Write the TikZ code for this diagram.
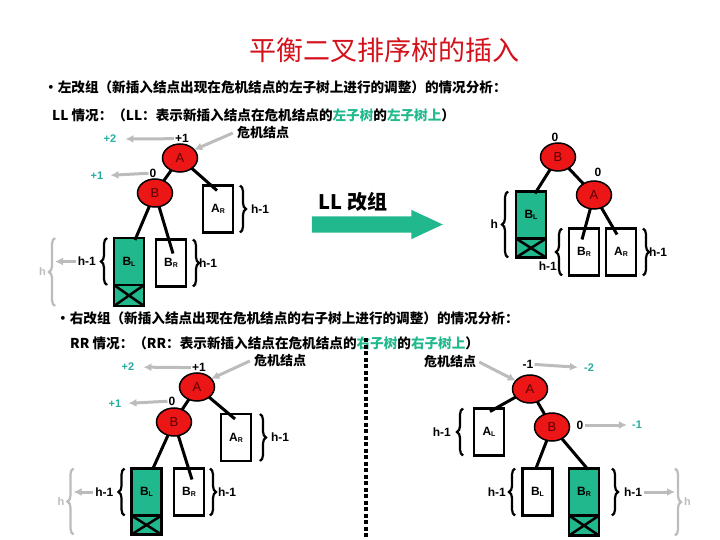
\documentclass[tikz,border=0pt]{standalone}
\usepackage{fontspec}
\setmainfont{Liberation Sans}
\newfontfamily\cjk{Noto Sans CJK SC}
\usetikzlibrary{shapes.geometric,shapes.arrows}
\usetikzlibrary{arrows.meta}
\usetikzlibrary{positioning}
\usetikzlibrary{decorations.pathreplacing}
\definecolor{nodered}{RGB}{236,22,22}
\definecolor{titlered}{RGB}{212,18,28}
\definecolor{newgreen}{RGB}{32,184,140}
\definecolor{bfgreen}{RGB}{38,172,160}
\definecolor{hintgray}{RGB}{188,188,188}
\newcommand{\subbox}[2]{#1\raisebox{-1.2pt}{\fontsize{7}{7}\selectfont #2}}
\tikzset{
% standard arrow tip
>={Latex[length=8pt,width=8pt]},
avl/.style={ellipse, draw=black, line width=1.5pt, fill=nodered,
  minimum width=35pt, minimum height=28pt, inner sep=0, outer sep=0,
  text=red!35!black, font=\fontsize{13}{13}\selectfont},
subtree/.style={rectangle, draw=black, line width=2.5pt, fill=white,
  minimum width=30pt, minimum height=47pt, inner sep=0, outer sep=0,
  font=\bfseries\fontsize{12}{12}\selectfont},
grown/.style={subtree, fill=newgreen},
cutoff/.style={subtree, fill=newgreen, minimum height=19pt,
  path picture={\draw[line width=2.5pt]
    (path picture bounding box.north west) -- (path picture bounding box.south east)
    (path picture bounding box.south west) -- (path picture bounding box.north east);}},
link/.style={line width=3pt},
brc/.style={decorate, decoration={brace, amplitude=6pt}, line width=2.2pt},
gbrc/.style={brc, draw=hintgray},
gray arrow/.style={->, draw=hintgray, line width=3pt},
lbl/.style={inner sep=1pt, font=\bfseries\fontsize{12}{12}\selectfont},
bflbl/.style={inner sep=1pt, text=bfgreen, font=\bfseries\fontsize{11}{11}\selectfont},
hlbl/.style={inner sep=1pt, text=hintgray, font=\bfseries\fontsize{11}{11}\selectfont},
crit/.style={inner sep=1pt, font=\cjk\bfseries\fontsize{13}{13}\selectfont},
textline/.style={anchor=west, inner sep=0, font=\cjk\bfseries\fontsize{13.6}{13.6}\selectfont}
}

\begin{document}
\begin{tikzpicture}[x=1pt, y=-1pt]
  \useasboundingbox (0,0) rectangle (720,540);

  % headings
  \node[text=titlered, font=\cjk\fontsize{27}{27}\selectfont] (title) at (384,50) {平衡二叉排序树的插入};
  \node[textline] (ll-head) at (44,87) {・左改组（新插入结点出现在危机结点的左子树上进行的调整）的情况分析：};
  \node[textline] (ll-case) at (52,115) {LL 情况：（LL：表示新插入结点在危机结点的\textcolor{newgreen}{左子树}的\textcolor{newgreen}{左子树上}）};

  % LL, before
  \node[avl] (la) at (180,158) {A};
  \node[avl] (lb) at (155,193) {B};
  \node[subtree] (lar) at (218,209) {\subbox{A}{R}};
  \node[grown] (lbl) at (129,261.5) {\subbox{B}{L}};
  \node[cutoff, anchor=north, minimum height=21pt] (lblx) at (lbl.south) {};
  \node[subtree] (lbr) at (171,263) {\subbox{B}{R}};

  \draw[link] (la) -- (lb);
  \draw[link] (la) -- ([xshift=-1pt,yshift=-5pt]lar.north);
  \draw[link] (lb) -- ([xshift=6pt,yshift=-2pt]lbl.north);
  \draw[link] (lb) -- ([xshift=2pt,yshift=-14pt]lbr.north);

  \node[lbl, above=0pt of la, xshift=2pt] (la-bf) {+1};
  \node[bflbl] (la-bf2) at (110,139) {+2};
  \draw[gray arrow, shorten >=8pt] (la-bf) -- (la-bf2);
  \node[lbl] (lb-bf) at (153,173) {0};
  \node[bflbl] (lb-bf2) at (97,176) {+1};
  \draw[gray arrow, shorten >=6pt] (lb-bf) -- (lb-bf2);
  \node[crit] (lcrit) at (263,133) {危机结点};
  \draw[gray arrow] ([xshift=-3pt]lcrit.west) -- (la.30);

  \draw[brc] ([xshift=7pt]lar.north east) -- node[lbl, right=9pt] (larh) {h-1} ([xshift=7pt]lar.south east);
  \draw[brc] ([xshift=7pt]lbr.north east) -- node[lbl, right=4pt] (lbrh) {h-1} ([xshift=7pt]lbr.south east);
  \draw[brc] ([xshift=-7pt]lbl.south west) -- node[lbl, left=9pt] (lblh) {h-1} ([xshift=-7pt]lbl.north west);
  \draw[gbrc] ([xshift=-59pt]lblx.south west) -- coordinate (lhmid) node[hlbl, left=7pt] (lh) {h} ([xshift=-59pt]lbl.north west);
  \draw[gray arrow] (lblh.west) -- (lblh.west -| lhmid);

  % LL rotation
  \node[font=\cjk\bfseries\fontsize{20}{20}\selectfont] (ll-label) at (353,202) {LL 改组};
  \node[single arrow, fill=newgreen, minimum height=131pt, inner xsep=0pt, inner ysep=8pt,
    single arrow head extend=6.5pt, single arrow tip angle=50] (ll-arrow) at (368.5,224.5) {};

  % LL, after
  \node[avl] (rb) at (558,157) {B};
  \node[avl] (ra) at (594,195) {A};
  \node[grown] (rbl) at (531,215) {\subbox{B}{L}};
  \node[cutoff, anchor=north] (rblx) at (rbl.south) {};
  \node[subtree] (rbr) at (584,252) {\subbox{B}{R}};
  \node[subtree] (rar) at (621,252) {\subbox{A}{R}};

  \draw[link] (rb) -- (ra);
  \draw[link] (rb) -- ([xshift=4pt,yshift=-2pt]rbl.north);
  \draw[link] (ra) -- ([xshift=-2pt,yshift=-11pt]rbr.north);
  \draw[link] (ra) -- ([xshift=-4pt,yshift=-6pt]rar.north);

  \node[lbl, above=0pt of rb, xshift=-3pt] (rb-bf) {0};
  \node[lbl] (ra-bf) at (598,172) {0};

  \draw[brc] ([xshift=-8pt]rblx.south west) -- node[lbl, left=8pt] (rblh) {h} ([xshift=-8pt]rbl.north west);
  \draw[brc] ([xshift=-7pt]rbr.south west) -- node[lbl, pos=0.2, left=3pt] (rbrh) {h-1} ([xshift=-7pt]rbr.north west);
  \draw[brc] ([xshift=7pt]rar.north east) -- node[lbl, right=4pt] (rarh) {h-1} ([xshift=7pt]rar.south east);

  % RR headings
  \node[textline] (rr-head) at (56,318) {・右改组（新插入结点出现在危机结点的右子树上进行的调整）的情况分析：};
  \node[textline] (rr-case) at (70,343) {RR 情况：（RR：表示新插入结点在危机结点的\textcolor{newgreen}{右子树}的\textcolor{newgreen}{右子树上}）};
  \draw[line width=4pt, dash pattern=on 4pt off 2.5pt] (366,338) -- (366,540);

  % RR, left copy
  \node[avl] (sa) at (197,387) {A};
  \node[avl] (sb) at (174,422) {B};
  \node[subtree] (sar) at (236,437.5) {\subbox{A}{R}};
  \node[grown] (sbl) at (146.5,492) {\subbox{B}{L}};
  \node[cutoff, anchor=north] (sblx) at (sbl.south) {};
  \node[subtree] (sbr) at (189,492) {\subbox{B}{R}};

  \draw[link] (sa) -- (sb);
  \draw[link] (sa) -- ([xshift=-1pt,yshift=-5pt]sar.north);
  \draw[link] (sb) -- ([xshift=6pt,yshift=-1pt]sbl.north);
  \draw[link] (sb) -- ([xshift=3pt,yshift=-11pt]sbr.north);

  \node[lbl, above=0pt of sa, xshift=2pt] (sa-bf) {+1};
  \node[bflbl] (sa-bf2) at (128,367) {+2};
  \draw[gray arrow, shorten >=8pt] (sa-bf) -- (sa-bf2);
  \node[lbl] (sb-bf) at (172,401) {0};
  \node[bflbl] (sb-bf2) at (115,404) {+1};
  \draw[gray arrow, shorten >=6pt] (sb-bf) -- (sb-bf2);
  \node[crit] (scrit) at (280,361) {危机结点};
  \draw[gray arrow] ([xshift=-3pt]scrit.west) -- (sa.30);

  \draw[brc] ([xshift=9pt]sar.north east) -- node[lbl, right=9pt] (sarh) {h-1} ([xshift=9pt]sar.south east);
  \draw[brc] ([xshift=6pt]sbr.north east) -- node[lbl, right=6pt] (sbrh) {h-1} ([xshift=6pt]sbr.south east);
  \draw[brc] ([xshift=-7pt]sbl.south west) -- node[lbl, left=9pt] (sblh) {h-1} ([xshift=-7pt]sbl.north west);
  \draw[gbrc] ([xshift=-58pt]sblx.south west) -- coordinate (shmid) node[hlbl, left=7pt] (sh) {h} ([xshift=-58pt]sbl.north west);
  \draw[gray arrow] (sblh.west) -- (sblh.west -| shmid);

  % RR, right copy
  \node[crit] (tcrit) at (450,362) {危机结点};
  \node[avl] (ta) at (530,389) {A};
  \node[subtree] (tal) at (489,432) {\subbox{A}{L}};
  \node[avl] (tb) at (552,427) {B};
  \node[subtree] (tbl) at (537.5,492) {\subbox{B}{L}};
  \node[grown] (tbr) at (584,492) {\subbox{B}{R}};
  \node[cutoff, anchor=north, minimum height=20pt] (tbrx) at (tbr.south) {};

  \draw[link] (ta) -- ([xshift=1pt,yshift=-3pt]tal.north);
  \draw[link] (ta) -- (tb);
  \draw[link] (tb) -- ([xshift=-2pt,yshift=-1pt]tbl.north);
  \draw[link] (tb) -- ([xshift=4pt,yshift=-1pt]tbr.north);

  \node[lbl] (ta-bf) at (528,364) {-1};
  \node[bflbl] (ta-bf2) at (589,368) {-2};
  \draw[gray arrow, shorten >=5pt] (ta-bf) -- (ta-bf2);
  \node[lbl] (tb-bf) at (580,425) {0};
  \node[bflbl] (tb-bf2) at (637,425) {-1};
  \draw[gray arrow, shorten >=4pt] (tb-bf) -- (tb-bf2);
  \draw[gray arrow] ([xshift=2pt]tcrit.east) -- (ta.150);

  \draw[brc] ([xshift=-11pt]tal.south west) -- node[lbl, left=10pt] (talh) {h-1} ([xshift=-11pt]tal.north west);
  \draw[brc] ([xshift=-7.5pt]tbl.south west) -- node[lbl, left=7pt] (tblh) {h-1} ([xshift=-7.5pt]tbl.north west);
  \draw[brc] ([xshift=13pt]tbr.north east) -- node[lbl, right=10pt] (tbrh) {h-1} ([xshift=13pt]tbr.south east);
  \draw[gbrc] ([xshift=76pt]tbr.north east) -- coordinate (thmid) node[hlbl, right=7pt] (th) {h} ([xshift=76pt]tbrx.south east);
  \draw[gray arrow] (tbrh.east) -- (tbrh.east -| thmid);
\end{tikzpicture}
\end{document}
